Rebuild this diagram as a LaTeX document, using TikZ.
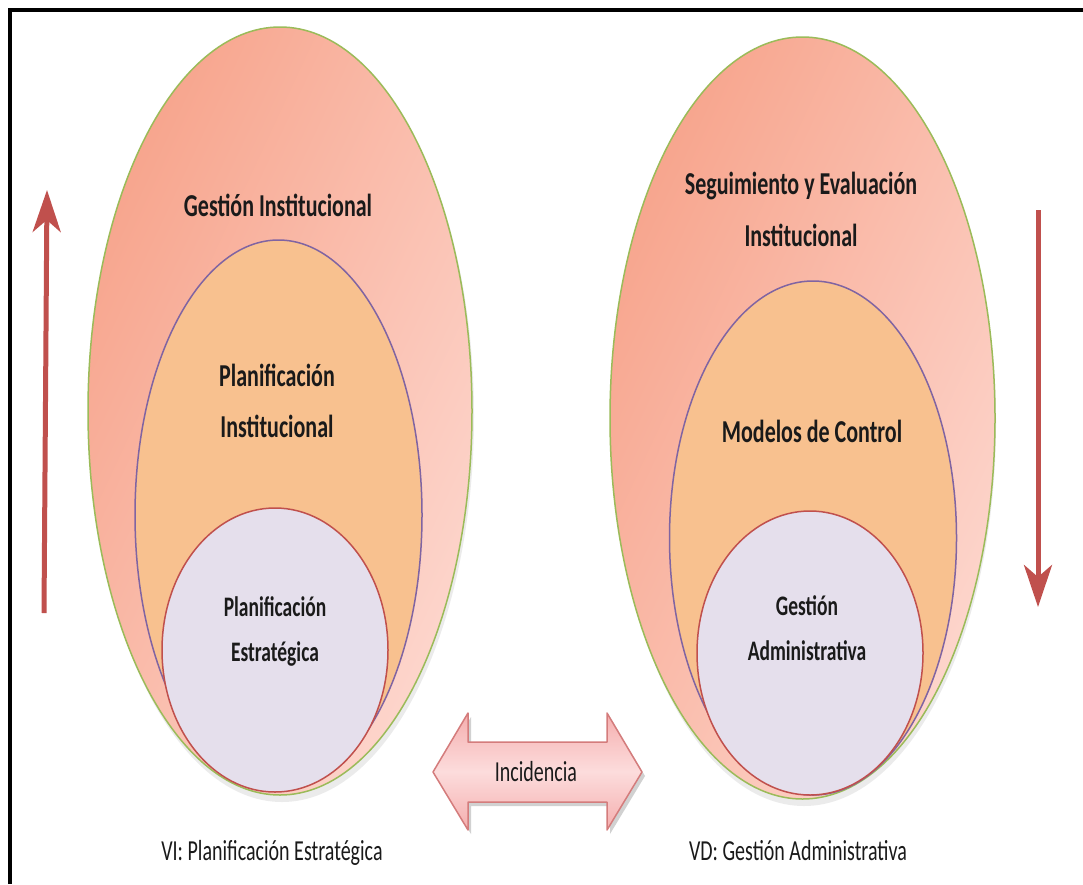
\documentclass[tikz,border=0pt]{standalone}
\usepackage{fontspec}
\setmainfont{Carlito}
\usepackage{graphicx}
\usetikzlibrary{arrows.meta,shapes.geometric}

\definecolor{outerline}{HTML}{9BBB59}
\definecolor{salmonL}{HTML}{F7A48C}
\definecolor{salmonR}{HTML}{FDD6CD}
\definecolor{midline}{HTML}{8064A2}
\definecolor{midfill}{HTML}{F8C18F}
\definecolor{innerline}{HTML}{C0504D}
\definecolor{innerfill}{HTML}{E5DFEC}
\definecolor{arrowred}{HTML}{C0504D}
\definecolor{pinkedge}{HTML}{D47C7C}
\definecolor{pinkA}{HTML}{F5AEAE}
\definecolor{pinkB}{HTML}{FCDCDC}
\definecolor{textdark}{HTML}{1A1A1A}

% vertical stretch of the lettering
\newcommand{\vst}{1.45}
% stretched, centred label: size, baseline skip, lines
\newcommand{\lbl}[3]{\scalebox{1}[\vst]{\fontsize{#1}{#2}\selectfont\begin{tabular}{@{}c@{}}#3\end{tabular}}}

\begin{document}
\begin{tikzpicture}[x=1pt,y=-1pt,
  ellbase/.style={ellipse, line width=1.5pt, inner sep=0pt, outer sep=0pt},
  outerell/.style={ellbase, draw=outerline, left color=salmonL, right color=salmonR,
    shading angle=65},
  midell/.style={ellbase, draw=midline, fill=midfill},
  innerell/.style={ellbase, draw=innerline, fill=innerfill},
  redarrow/.style={draw=arrowred, line width=5pt,
    -{Stealth[length=42pt,width=28pt,inset=12pt]}},
  boldlbl/.style={inner sep=0pt, text=textdark, font=\bfseries},
  plainlbl/.style={inner sep=0pt, text=textdark}]

\useasboundingbox (0,0) rectangle (1083,884);
\fill[white] (0,0) rectangle (1083,884);

% frame
\draw[line width=4pt] (10,884) -- (10,10) -- (1083,10);

% soft shadows under the lower rims
\fill[black, opacity=0.08] (282,416) ellipse [x radius=192, y radius=386];
\fill[black, opacity=0.08] (804,423) ellipse [x radius=192, y radius=383];

% left group: Planificación
\node[outerell, minimum width=384pt, minimum height=768pt] (gi) at (280,411) {};
\node[midell, minimum width=287pt, minimum height=550pt] (pi) at (278.5,515) {};
\node[innerell, minimum width=226pt, minimum height=284pt] (pe) at (275,650) {};

\node[boldlbl] (tgi) at (278,206) {\lbl{22}{35}{Gestión Institucional}};
\node[boldlbl] (tpi) at (277,402) {\lbl{22}{35}{Planificación\\Institucional}};
\node[boldlbl] (tpe) at (275,630) {\lbl{19.5}{31}{Planificación\\Estratégica}};

% right group: Gestión
\node[outerell, minimum width=385pt, minimum height=762pt] (se) at (802.5,418) {};
\node[midell, minimum width=287pt, minimum height=514pt] (mc) at (813,538) {};
\node[innerell, minimum width=226pt, minimum height=284pt] (ga) at (810,653) {};

\node[boldlbl] (tse) at (801,210) {\lbl{22}{36}{Seguimiento y Evaluación\\Institucional}};
\node[boldlbl] (tmc) at (812,432) {\lbl{22}{35}{Modelos de Control}};
\node[boldlbl] (tga) at (807,629) {\lbl{19.5}{31}{Gestión\\Administrativa}};

% direction arrows
\coordinate (upS) at (44,613);
\coordinate (upE) at (47,190);
\draw[redarrow] (upS) -- (upE);
\coordinate (dnS) at (1038,210);
\coordinate (dnE) at (1038,607);
\draw[redarrow] (dnS) -- (dnE);

% double arrow "Incidencia"
\fill[black, opacity=0.18, shift={(3,4)}]
  (433,772) -- (468,713) -- (468,742) -- (607,742) -- (607,713) -- (642,772)
  -- (607,830) -- (607,802) -- (468,802) -- (468,830) -- cycle;
\draw[pinkedge, line width=1.5pt, line join=round,
      top color=pinkA, bottom color=pinkA, middle color=pinkB]
  (433,772) -- (468,713) -- (468,742) -- (607,742) -- (607,713) -- (642,772)
  -- (607,830) -- (607,802) -- (468,802) -- (468,830) -- cycle;
\node[plainlbl] (inc) at (536,773) {\lbl{20}{30}{Incidencia}};

% variable captions
\node[plainlbl] (vi) at (272,852) {\lbl{20}{30}{VI: Planificación Estratégica}};
\node[plainlbl] (vd) at (798,852) {\lbl{20}{30}{VD: Gestión Administrativa}};
\end{tikzpicture}
\end{document}
